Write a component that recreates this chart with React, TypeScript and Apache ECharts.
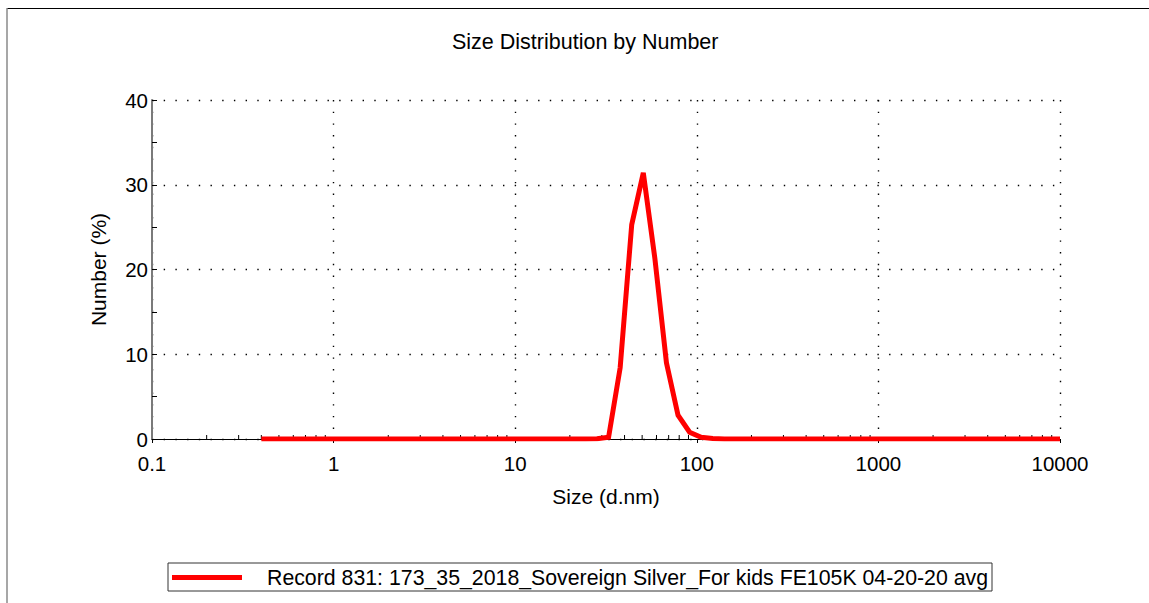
import React, { useEffect, useRef } from "react";
import * as echarts from "echarts";

const titleText = "Size Distribution by Number";
const seriesName = "Record 831: 173_35_2018_Sovereign Silver_For kids FE105K 04-20-20 avg";
const xAxisName = "Size (d.nm)";
const yAxisName = "Number (%)";

// Size bins (d.nm)
const sizes = [
  0.4, 0.4632, 0.5365, 0.6213, 0.7195, 0.8332, 0.9649, 1.117, 1.294, 1.499,
  1.736, 2.01, 2.328, 2.696, 3.122, 3.615, 4.187, 4.849, 5.615, 6.503,
  7.531, 8.721, 10.1, 11.7, 13.54, 15.69, 18.17, 21.04, 24.36, 28.21,
  32.67, 37.84, 43.82, 50.75, 58.77, 68.06, 78.82, 91.28, 105.7, 122.4,
  141.8, 164.2, 190.1, 220.2, 255.0, 295.3, 342.0, 396.1, 458.7, 531.2,
  615.1, 712.4, 825.0, 955.4, 1106, 1281, 1484, 1718, 1990, 2305,
  2669, 3091, 3580, 4145, 4801, 5560, 6439, 7456, 8635, 10000,
];
// Number (%)
const numbers = [
  0, 0, 0, 0, 0, 0, 0, 0, 0, 0,
  0, 0, 0, 0, 0, 0, 0, 0, 0, 0,
  0, 0, 0, 0, 0, 0, 0, 0, 0, 0.02,
  0.2, 8.4, 25.3, 31.4, 21.3, 9.0, 2.8, 0.8, 0.2, 0.05,
  0, 0, 0, 0, 0, 0, 0, 0, 0, 0,
  0, 0, 0, 0, 0, 0, 0, 0, 0, 0,
  0, 0, 0, 0, 0, 0, 0, 0, 0, 0,
];

const xTickLabels = ["0.1", "1", "10", "100", "1000", "10000"];
const yTickLabels = ["0", "10", "20", "30", "40"];
const decades = [0.1, 1, 10, 100, 1000];
const minorMultipliers = [2, 3, 4, 5, 6, 7, 8, 9];

const FONT = "'Liberation Sans', Arial, sans-serif";

export default function App() {
  const ref = useRef<HTMLDivElement>(null);

  useEffect(() => {
    if (!ref.current) return;
    const chart = echarts.init(ref.current, undefined, { renderer: "svg" });
    const lineData = sizes.map((s, i) => [s, numbers[i]]);
    const minorTicks: number[][] = [];
    decades.forEach((d) => minorMultipliers.forEach((m) => minorTicks.push([d * m, 0])));

    chart.setOption({
      animation: false,
      backgroundColor: "#ffffff",
      textStyle: { fontFamily: FONT },
      title: {
        text: titleText,
        left: 452,
        top: 31,
        padding: 0,
        textStyle: { fontSize: 21.5, fontWeight: "normal", color: "#000", fontFamily: FONT },
      },
      legend: {
        left: 168,
        top: 563,
        data: [{ name: seriesName, icon: "rect" }],
        itemWidth: 70,
        itemHeight: 5,
        padding: [4, 4, 3, 4],
        borderColor: "#333",
        borderWidth: 1,
        selectedMode: false,
        textStyle: { fontSize: 21.3, color: "#000", fontFamily: FONT, padding: [0, 0, 0, 20] },
      },
      grid: {
        left: 152,
        right: 89,
        top: 100,
        bottom: 164,
        containLabel: false,
        outerBoundsMode: "none",
      },
      xAxis: {
        type: "log",
        logBase: 10,
        min: 0.1,
        max: 10000,
        name: xAxisName,
        nameLocation: "middle",
        nameGap: 47,
        nameTextStyle: { fontSize: 21, color: "#000", fontFamily: FONT },
        axisLine: { show: true, onZero: false, lineStyle: { color: "#000", width: 1 } },
        axisTick: { show: true, length: 4, lineStyle: { color: "#000" } },
        minorTick: { show: false },
        axisLabel: {
          fontSize: 20.5,
          color: "#000",
          margin: 14,
          fontFamily: FONT,
          formatter: (v: number) => xTickLabels[Math.round(Math.log10(v)) + 1] ?? "",
        },
        splitLine: {
          show: true,
          lineStyle: { color: "#000", width: 1.4, type: [1.4, 10.3] },
        },
      },
      yAxis: {
        type: "value",
        min: 0,
        max: 40,
        interval: 10,
        name: yAxisName,
        nameLocation: "middle",
        nameGap: 43,
        nameTextStyle: { fontSize: 21, color: "#000", fontFamily: FONT },
        axisLine: { show: true, lineStyle: { color: "#7a7a7a", width: 2 } },
        axisTick: { show: true, inside: true, length: 5, lineStyle: { color: "#000" } },
        minorTick: { show: true, splitNumber: 2, length: 5, lineStyle: { color: "#000" } },
        axisLabel: {
          fontSize: 20.5,
          color: "#000",
          margin: 4,
          fontFamily: FONT,
          formatter: (v: number) => yTickLabels[Math.round(v / 10)] ?? "",
        },
        splitLine: {
          show: true,
          lineStyle: { color: "#000", width: 1.4, type: [1.4, 10.3] },
        },
      },
      series: [
        {
          type: "custom",
          name: "minorTicks",
          silent: true,
          z: 1,
          data: minorTicks,
          renderItem: (params: any, api: any) => {
            const p = api.coord([api.value(0), 0]);
            return {
              type: "line",
              shape: { x1: p[0], y1: p[1] - 4, x2: p[0], y2: p[1] + 1 },
              style: { stroke: "#000", lineWidth: 1 },
            };
          },
        },
        {
          type: "line",
          name: seriesName,
          data: lineData,
          showSymbol: false,
          symbol: "none",
          z: 5,
          itemStyle: { color: "#ff0000" },
          lineStyle: { color: "#ff0000", width: 5, join: "miter" },
        },
      ],
      graphic: [
        {
          type: "line",
          shape: { x1: 7, y1: 8.5, x2: 1149, y2: 8.5 },
          style: { stroke: "#000", lineWidth: 1 },
        },
        {
          type: "line",
          shape: { x1: 7, y1: 8, x2: 7, y2: 603 },
          style: { stroke: "#8a8a8a", lineWidth: 1.5 },
        },
      ],
    });
    return () => chart.dispose();
  }, []);

  return (
    <div
      ref={ref}
      style={{ position: "fixed", left: 0, top: 0, width: 1149, height: 603, background: "#fff" }}
    />
  );
}
